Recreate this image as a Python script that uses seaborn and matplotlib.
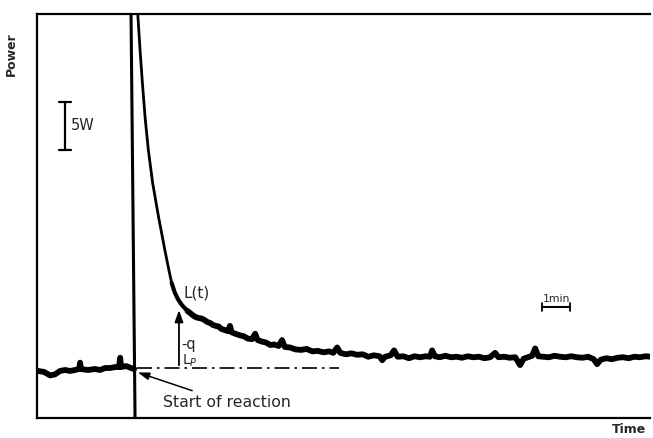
import matplotlib
matplotlib.use("Agg")
import matplotlib.pyplot as plt
import seaborn as sns

# --- data: time in min (0 = start of reaction), power in W over baseline
pre_t = [-3.45, -3.39, -3.18, -2.96, -2.79, -2.61, -2.43, -2.25, -2.07, -1.93, -1.89, -1.86,
         -1.61, -1.36, -1.18, -1.00, -0.82, -0.64, -0.50, -0.46, -0.43, -0.25, -0.07, 0.04]
pre_p = [-0.10, -0.10, -0.20, -0.55, -0.45, -0.10, 0.00, -0.10, 0.00, 0.10, 0.75, 0.10,
         0.00, 0.10, 0.00, 0.20, 0.20, 0.30, 0.30, 1.25, 0.30, 0.40, 0.20, 0.10]

jump_t = [-0.078, 0.075]
jump_p = [38.0, -6.0]

decay_t = [0.154, 0.168, 0.25, 0.339, 0.432, 0.546, 0.70, 0.911, 1.136, 1.279, 1.379]
decay_p = [37.24, 36.33, 32.65, 29.08, 25.71, 22.45, 19.08, 15.61, 12.24, 10.20, 8.88]

tail_t = [1.379, 1.482, 1.60, 1.743, 1.946, 2.05, 2.15, 2.25, 2.35, 2.45, 2.55, 2.65,
          2.75, 2.85, 2.95, 3.05, 3.15, 3.25, 3.35, 3.40, 3.46, 3.52, 3.65, 3.80, 3.95, 4.10,
          4.25, 4.36, 4.45, 4.60, 4.75, 4.90, 5.05, 5.20, 5.32, 5.42, 5.60, 5.80, 6.00, 6.20,
          6.40, 6.60, 6.80, 7.00, 7.15, 7.29, 7.40, 7.60, 7.80, 8.00, 8.20, 8.40, 8.60, 8.80,
          8.90, 9.00, 9.20, 9.32, 9.45, 9.65, 9.85, 10.05, 10.25, 10.45, 10.60, 10.68, 10.78,
          10.95, 11.15, 11.35, 11.55, 11.75, 11.95, 12.15, 12.35, 12.55, 12.75, 12.93, 13.05,
          13.25, 13.45, 13.65, 13.82, 13.95, 14.10, 14.25, 14.36, 14.47, 14.65, 14.85, 15.05,
          15.25, 15.45, 15.65, 15.85, 16.05, 16.25, 16.45, 16.57, 16.70, 16.90, 17.10, 17.30,
          17.50, 17.70, 17.90, 18.10, 18.30, 18.50]
tail_p = [8.88, 7.96, 7.24, 6.63, 6.02, 5.78, 5.55, 5.38, 5.3, 5.25, 5.1, 4.9,
          4.8, 4.6, 4.5, 4.45, 4.2, 4.1, 4.0, 3.95, 4.5, 3.85, 3.7, 3.55, 3.45, 3.2,
          3.15, 3.7, 3.05, 2.9, 2.8, 2.55, 2.6, 2.45, 3.05, 2.35, 2.3, 2.1, 2.05, 2.15,
          1.9, 1.95, 1.8, 1.9, 1.75, 2.3, 1.75, 1.6, 1.7, 1.55, 1.6, 1.35, 1.5, 1.4,
          1.0, 1.35, 1.5, 2.0, 1.35, 1.4, 1.2, 1.4, 1.3, 1.4, 1.35, 2.0, 1.4,
          1.3, 1.45, 1.3, 1.35, 1.25, 1.4, 1.3, 1.35, 1.2, 1.3, 1.75, 1.3,
          1.35, 1.25, 1.3, 0.5, 1.15, 1.3, 1.45, 2.2, 1.4, 1.35, 1.3, 1.45,
          1.35, 1.3, 1.4, 1.3, 1.25, 1.35, 1.1, 0.6, 1.05, 1.2, 1.1, 1.25,
          1.3, 1.2, 1.35, 1.3, 1.4, 1.35]

baseline_t = [0.14, 7.36]
baseline_p = [0.2, 0.2]

arrow_t = 1.64
arrow_p = [0.2, 6.4]

scale_w_t = -2.43
scale_w_p = [22.4, 27.4]      # 5 W
scale_min_t = [14.61, 15.61]  # 1 min
scale_min_p = 6.45

xlim = (-3.43, 18.46)
ylim = (-4.9, 36.33)

# --- plot
sns.set_style("white")
plt.rcParams['font.family'] = ['DejaVu Sans']

fig = plt.figure(figsize=(6.53, 4.38), dpi=100)
ax = fig.add_axes([37 / 653, 20 / 438, 613 / 653, 404 / 438])

sns.lineplot(x=pre_t, y=pre_p, ax=ax, color="black", lw=4.2, sort=False, estimator=None)
sns.lineplot(x=jump_t, y=jump_p, ax=ax, color="black", lw=2.2, sort=False, estimator=None)
sns.lineplot(x=decay_t, y=decay_p, ax=ax, color="black", lw=2.0, sort=False, estimator=None)
sns.lineplot(x=tail_t[:6], y=tail_p[:6], ax=ax, color="black", lw=3.0, sort=False, estimator=None)
sns.lineplot(x=tail_t[4:], y=tail_p[4:], ax=ax, color="black", lw=4.2, sort=False, estimator=None)

ax.plot(baseline_t, baseline_p, color="black", lw=1.2, dashes=(9, 3, 1.5, 3))

ax.annotate("", xy=(arrow_t, arrow_p[1]), xytext=(arrow_t, arrow_p[0]),
            arrowprops=dict(arrowstyle="-|>,head_length=0.7,head_width=0.25", color="black", lw=1.3))

ax.text(1.79, 7.9, "L(t)", fontsize=11, va="center", ha="left")
ax.text(1.72, 2.55, "-q", fontsize=10.5, va="center", ha="left")
ax.text(1.76, 0.95, "L$_P$", fontsize=10, va="center", ha="left")

ax.annotate("Start of reaction", xy=(0.17, -0.25), xytext=(1.07, -3.3),
            fontsize=11.3, va="center", ha="left",
            arrowprops=dict(arrowstyle="-|>,head_length=0.6,head_width=0.2", color="black",
                            lw=1.1, shrinkA=2, shrinkB=0))

# 5 W scale bar
ax.plot([scale_w_t, scale_w_t], scale_w_p, color="black", lw=1.6)
for p in scale_w_p:
    ax.plot([scale_w_t - 0.2, scale_w_t + 0.2], [p, p], color="black", lw=1.6)
ax.text(scale_w_t + 0.22, sum(scale_w_p) / 2, "5W", fontsize=10.5, va="center", ha="left")

# 1 min scale bar
ax.plot(scale_min_t, [scale_min_p, scale_min_p], color="black", lw=1.5)
for t in scale_min_t:
    ax.plot([t, t], [scale_min_p - 0.4, scale_min_p + 0.4], color="black", lw=1.3)
ax.text(sum(scale_min_t) / 2, scale_min_p + 0.3, "1min", fontsize=7.8, va="bottom", ha="center")

ax.set_xlim(*xlim)
ax.set_ylim(*ylim)
ax.set_xticks([])
ax.set_yticks([])
ax.spines["right"].set_visible(False)
for s in ["left", "top", "bottom"]:
    ax.spines[s].set_linewidth(1.6)
    ax.spines[s].set_color("black")

ax.set_ylabel("Power", fontsize=9, fontweight="bold")
ax.yaxis.set_label_coords(-0.031, 0.90)
ax.set_xlabel("Time", fontsize=9, fontweight="bold")
ax.xaxis.set_label_coords(0.965, -0.012)
ax.xaxis.label.set_va("top")

fig.savefig("out.png", dpi=100)
